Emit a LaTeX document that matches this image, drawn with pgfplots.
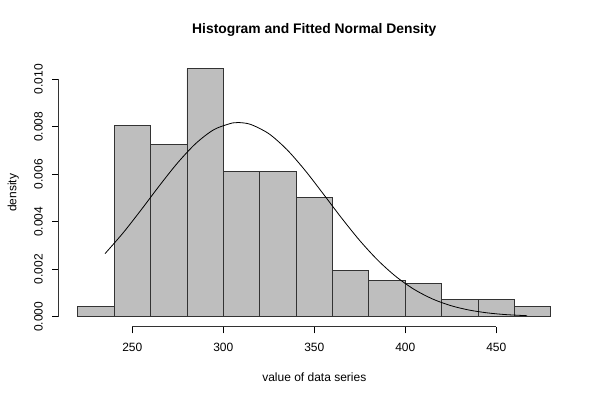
\documentclass[border=0pt]{standalone}
\usepackage{fontspec}
\setmainfont{Liberation Sans}
\usepackage{pgfplots}
\pgfplotsset{compat=1.18}
\definecolor{rgrey}{HTML}{BEBEBE}
\begin{document}
\begin{tikzpicture}
\path[use as bounding box] (-44.1pt,-55.05pt) rectangle (405.9pt,244.95pt);
\begin{axis}[
  at={(0,0)}, anchor=south west,
  scale only axis, width=383.25pt, height=200.85pt,
  xmin=209.6, xmax=490.4, ymin=-0.0004176, ymax=0.0108576,
  axis x line*=bottom, axis y line*=left,
  axis line style={draw=none},
  tick align=outside, major tick length=5pt,
  tick style={black, line width=0.6pt},
  xtick={250,300,350,400,450},
  ytick={0,0.002,0.004,0.006,0.008,0.010},
  scaled y ticks=false,
  /pgf/number format/assume math mode=true,
  yticklabel style={/pgf/number format/fixed, /pgf/number format/fixed zerofill, /pgf/number format/precision=3},
  yticklabel style={rotate=90, anchor=south, font=\fontsize{9}{10}\selectfont},
  xticklabel style={font=\fontsize{9}{10}\selectfont},
  xticklabel shift=4pt, yticklabel shift=3.5pt,
  clip=false,
]
\addplot[ybar interval, fill=rgrey, draw=black!80, line width=0.6pt] coordinates {
(220,0.00042) (240,0.00806) (260,0.00724) (280,0.01044) (300,0.00612)
(320,0.00612) (340,0.00503) (360,0.00195) (380,0.00154) (400,0.00140)
(420,0.00072) (440,0.00072) (460,0.00044) (480,0.00044)
};
\addplot[black, line width=0.6pt, smooth] coordinates {
(235,0.002654) (245,0.003534) (255,0.004513) (265,0.005526) (275,0.006486)
(285,0.007301) (295,0.007882) (305,0.008157) (308.2,0.008175) (315,0.008096)
(325,0.007705) (335,0.007031) (345,0.006153) (355,0.005162) (365,0.004153)
(375,0.003203) (385,0.002370) (395,0.001681) (405,0.001143) (415,0.000745)
(425,0.000466) (435,0.000280) (445,0.000161) (455,0.0000886) (467,0.0000410)
};
\draw[black!80, line width=0.6pt] (axis cs:250,-0.0004176) -- (axis cs:450,-0.0004176);
\draw[black!80, line width=0.6pt] (axis cs:209.6,0) -- (axis cs:209.6,0.010);
\node[font=\bfseries\fontsize{10.4}{12}\selectfont] at ([yshift=21.6pt]rel axis cs:0.5,1) {Histogram and Fitted Normal Density};
\node[font=\fontsize{9}{10}\selectfont] at ([yshift=-38pt]rel axis cs:0.5,0) {value of data series};
\node[font=\fontsize{9}{10}\selectfont, rotate=90] at ([xshift=-34.1pt]rel axis cs:0,0.5) {density};
\end{axis}
\end{tikzpicture}
\end{document}
